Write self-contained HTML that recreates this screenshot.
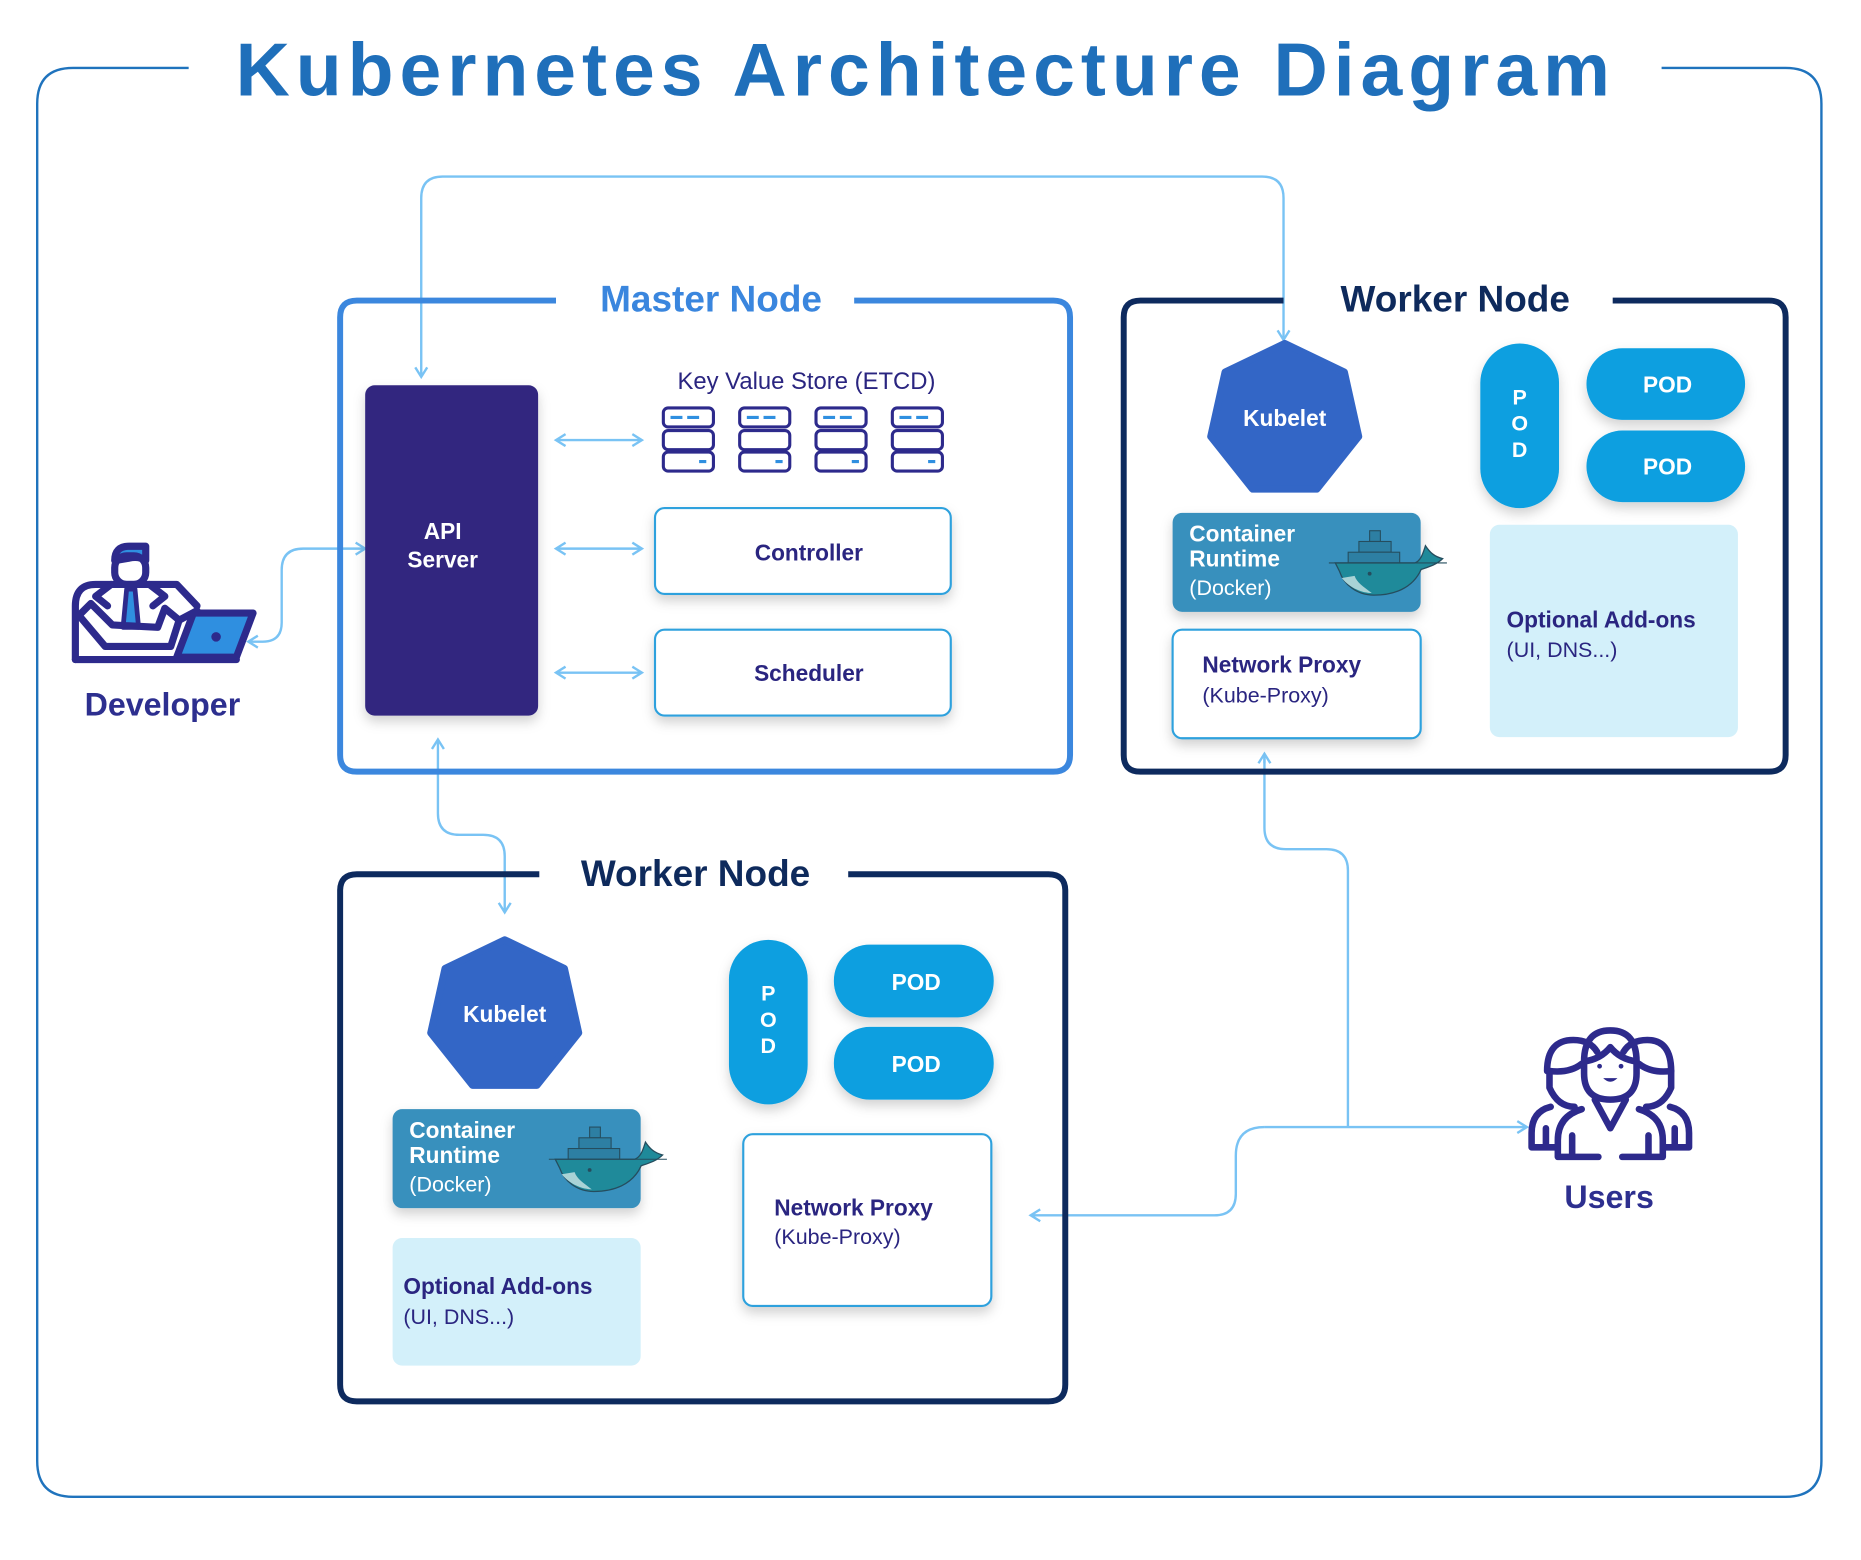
<!DOCTYPE html>
<html><head><meta charset="utf-8"><style>
html,body{margin:0;padding:0;background:#fff;}
svg{display:block;}
text{font-family:"Liberation Sans",sans-serif;}
.b{font-weight:bold;}
</style></head><body>
<svg width="1861" height="1560" viewBox="0 0 1560 1308" xmlns="http://www.w3.org/2000/svg">
<defs>
<filter id="sh" x="-20%" y="-20%" width="140%" height="150%"><feDropShadow dx="0" dy="5" stdDeviation="5" flood-color="#000" flood-opacity="0.18"/></filter>
<marker id="ah" viewBox="0 0 12 12" refX="10" refY="6" markerWidth="12" markerHeight="12" markerUnits="userSpaceOnUse" orient="auto-start-reverse"><path d="M2,1 L10,6 L2,11" fill="none" stroke="#79c3f4" stroke-width="2"/></marker>
<g id="etcd" fill="none" stroke="#2d2a8c" stroke-width="2.6">
<rect x="0" y="0" width="42" height="16" rx="4"/><rect x="0" y="19" width="42" height="16" rx="4"/><rect x="0" y="37" width="42" height="16" rx="4"/>
<path d="M6,8h10M20,8h10M30,45h6" stroke="#2f8fe0"/>
</g>
<g id="whale" transform="scale(0.9)">
<rect x="18" y="-30" width="10" height="10" fill="#2d7fa3" stroke="#254d5e"/>
<rect x="8" y="-20" width="30" height="10" fill="#2d7fa3" stroke="#254d5e"/>
<rect x="-2" y="-10" width="48" height="10" fill="#2d7fa3" stroke="#254d5e"/>
<path d="M-14,0 H60 C66,-2 68,-10 70,-16 C74,-10 78,-6 86,-4 C80,2 72,4 66,6 C58,24 40,30 22,30 C6,30 -6,20 -10,8 Z" fill="#1f8a9a" stroke="#254d5e" stroke-width="1.2"/>
<path d="M-8,14 C0,24 12,28 20,28 C12,22 6,18 4,12 Z" fill="#a9d3d6"/>
<circle cx="18" cy="10" r="1.8" fill="#254d5e"/>
<path d="M-20,0 H90" stroke="#254d5e" stroke-width="1"/>
</g>
</defs>

<!-- outer frame -->
<path d="M158,57 H61 Q31,57 31,87 V1225 Q31,1255 61,1255 H1497 Q1527,1255 1527,1225 V87 Q1527,57 1497,57 H1393" fill="none" stroke="#1f73bd" stroke-width="2"/>
<text x="776" y="80" text-anchor="middle" class="b" font-size="63" fill="#1f6fba" letter-spacing="5">Kubernetes Architecture Diagram</text>

<!-- connectors -->
<g fill="none" stroke="#79c3f4" stroke-width="2">
<path d="M353,316 V166 Q353,148 371,148 H1058 Q1076,148 1076,166 V285" marker-start="url(#ah)" marker-end="url(#ah)"/>
<path d="M306,460 H254 Q236,460 236,478 V522 Q236,538 220,538 H208" marker-start="url(#ah)" marker-end="url(#ah)"/>
<path d="M367,620 V682 Q367,700 385,700 H405 Q423,700 423,718 V765" marker-start="url(#ah)" marker-end="url(#ah)"/>
<path d="M1060,632 V694 Q1060,712 1078,712 H1112 Q1130,712 1130,730 V945"/>
<path d="M1060,632 V640" marker-start="url(#ah)"/>
<path d="M1060,945 H1280" marker-end="url(#ah)"/>
<path d="M1060,945 Q1036,945 1036,969 V1001 Q1036,1019 1018,1019 H864" marker-end="url(#ah)"/>
<path d="M466,369 H538" marker-start="url(#ah)" marker-end="url(#ah)"/>
<path d="M466,460 H538" marker-start="url(#ah)" marker-end="url(#ah)"/>
<path d="M466,564 H538" marker-start="url(#ah)" marker-end="url(#ah)"/>
</g>

<!-- master node -->
<path d="M466,252 H299 Q285,252 285,266 V633 Q285,647 299,647 H883 Q897,647 897,633 V266 Q897,252 883,252 H716" fill="none" stroke="#3b87de" stroke-width="5"/>
<text x="596" y="261" text-anchor="middle" class="b" font-size="31" fill="#3a86de">Master Node</text>
<rect x="306" y="323" width="145" height="277" rx="8" fill="#30267f" filter="url(#sh)"/>
<text x="371" y="452" text-anchor="middle" class="b" font-size="19" fill="#fff">API</text>
<text x="371" y="476" text-anchor="middle" class="b" font-size="19" fill="#fff">Server</text>
<text x="676" y="326" text-anchor="middle" font-size="20" fill="#2a2580">Key Value Store (ETCD)</text>
<use href="#etcd" x="556" y="342"/><use href="#etcd" x="620" y="342"/><use href="#etcd" x="684" y="342"/><use href="#etcd" x="748" y="342"/>
<rect x="549" y="426" width="248" height="72" rx="8" fill="#fff" stroke="#2ea1dd" stroke-width="1.8" filter="url(#sh)"/>
<text x="678" y="470" text-anchor="middle" class="b" font-size="19" fill="#2a2580">Controller</text>
<rect x="549" y="528" width="248" height="72" rx="8" fill="#fff" stroke="#2ea1dd" stroke-width="1.8" filter="url(#sh)"/>
<text x="678" y="571" text-anchor="middle" class="b" font-size="19" fill="#2a2580">Scheduler</text>

<!-- worker top right -->
<path d="M1076,252 H956 Q942,252 942,266 V633 Q942,647 956,647 H1483 Q1497,647 1497,633 V266 Q1497,252 1483,252 H1352" fill="none" stroke="#0d2a5e" stroke-width="5"/>
<text x="1220" y="261" text-anchor="middle" class="b" font-size="31" fill="#0e2a5c">Worker Node</text>
<polygon transform="translate(1077,352)" points="0,-64 50,-40 62,14 27,58 -27,58 -62,14 -50,-40" fill="#3366c6" stroke="#3366c6" stroke-width="6" stroke-linejoin="round"/>
<text x="1077" y="357" text-anchor="middle" class="b" font-size="19" fill="#fff">Kubelet</text>
<rect x="983" y="430" width="208" height="83" rx="8" fill="#3990bd" filter="url(#sh)"/>
<text x="997" y="454" class="b" font-size="19" fill="#fff">Container</text>
<text x="997" y="475" class="b" font-size="19" fill="#fff">Runtime</text>
<text x="997" y="499" font-size="18" fill="#fff">(Docker)</text>
<use href="#whale" x="1132" y="472"/>
<rect x="983" y="528" width="208" height="91" rx="8" fill="#fff" stroke="#2ea1dd" stroke-width="1.8" filter="url(#sh)"/>
<text x="1008" y="564" class="b" font-size="19" fill="#2a2580">Network Proxy</text>
<text x="1008" y="589" font-size="18" fill="#2a2580">(Kube-Proxy)</text>
<rect x="1241" y="288" width="66" height="138" rx="33" fill="#0a9fe0" filter="url(#sh)"/>
<text x="1274" y="339" text-anchor="middle" class="b" font-size="18" fill="#fff">P</text>
<text x="1274" y="361" text-anchor="middle" class="b" font-size="18" fill="#fff">O</text>
<text x="1274" y="383" text-anchor="middle" class="b" font-size="18" fill="#fff">D</text>
<rect x="1330" y="292" width="133" height="60" rx="30" fill="#0a9fe0" filter="url(#sh)"/>
<text x="1398" y="329" text-anchor="middle" class="b" font-size="19" fill="#fff">POD</text>
<rect x="1330" y="361" width="133" height="60" rx="30" fill="#0a9fe0" filter="url(#sh)"/>
<text x="1398" y="398" text-anchor="middle" class="b" font-size="19" fill="#fff">POD</text>
<rect x="1249" y="440" width="208" height="178" rx="8" fill="#d3f0fa"/>
<text x="1263" y="526" class="b" font-size="19" fill="#2a2580">Optional Add-ons</text>
<text x="1263" y="551" font-size="18" fill="#2a2580">(UI, DNS...)</text>

<!-- worker bottom -->
<path d="M452,733 H299 Q285,733 285,747 V1161 Q285,1175 299,1175 H879 Q893,1175 893,1161 V747 Q893,733 879,733 H711" fill="none" stroke="#0d2a5e" stroke-width="5"/>
<text x="583" y="743" text-anchor="middle" class="b" font-size="31" fill="#0e2a5c">Worker Node</text>
<polygon transform="translate(423,852)" points="0,-64 50,-40 62,14 27,58 -27,58 -62,14 -50,-40" fill="#3366c6" stroke="#3366c6" stroke-width="6" stroke-linejoin="round"/>
<text x="423" y="857" text-anchor="middle" class="b" font-size="19" fill="#fff">Kubelet</text>
<rect x="329" y="930" width="208" height="83" rx="8" fill="#3990bd" filter="url(#sh)"/>
<text x="343" y="954" class="b" font-size="19" fill="#fff">Container</text>
<text x="343" y="975" class="b" font-size="19" fill="#fff">Runtime</text>
<text x="343" y="999" font-size="18" fill="#fff">(Docker)</text>
<use href="#whale" x="478" y="972"/>
<rect x="329" y="1038" width="208" height="107" rx="8" fill="#d3f0fa"/>
<text x="338" y="1085" class="b" font-size="19" fill="#2a2580">Optional Add-ons</text>
<text x="338" y="1110" font-size="18" fill="#2a2580">(UI, DNS...)</text>
<rect x="611" y="788" width="66" height="138" rx="33" fill="#0a9fe0" filter="url(#sh)"/>
<text x="644" y="839" text-anchor="middle" class="b" font-size="18" fill="#fff">P</text>
<text x="644" y="861" text-anchor="middle" class="b" font-size="18" fill="#fff">O</text>
<text x="644" y="883" text-anchor="middle" class="b" font-size="18" fill="#fff">D</text>
<rect x="699" y="792" width="134" height="61" rx="30" fill="#0a9fe0" filter="url(#sh)"/>
<text x="768" y="830" text-anchor="middle" class="b" font-size="19" fill="#fff">POD</text>
<rect x="699" y="861" width="134" height="61" rx="30" fill="#0a9fe0" filter="url(#sh)"/>
<text x="768" y="899" text-anchor="middle" class="b" font-size="19" fill="#fff">POD</text>
<rect x="623" y="951" width="208" height="144" rx="8" fill="#fff" stroke="#2ea1dd" stroke-width="1.8" filter="url(#sh)"/>
<text x="649" y="1019" class="b" font-size="19" fill="#2a2580">Network Proxy</text>
<text x="649" y="1043" font-size="18" fill="#2a2580">(Kube-Proxy)</text>

<!-- developer icon -->
<g fill="none" stroke="#2d2a8c" stroke-width="6" stroke-linejoin="round" stroke-linecap="round">
<path d="M96,470 Q96,458 108,458 H122 V470 Q116,466 108,468 Z" fill="#2f8fe0"/>
<rect x="96" y="466" width="26" height="24" rx="10"/>
<path d="M63,553 V508 Q63,490 80,490 H148 L165,508"/>
<path d="M93,490 L80,500 L90,508 M125,490 L138,500 L128,508"/>
<path d="M106,494 L103,526 H116 L113,494 Z" fill="#2f8fe0" stroke-width="4"/>
<path d="M94,524 L76,506 L66,516 L88,542 H143 L150,520 L138,510 L132,526 Z"/>
<path d="M150,520 L165,512"/>
<path d="M162,514 H212 L198,551 H148 Z" fill="#2f8fe0"/>
<circle cx="181" cy="534" r="2.5" fill="#2d2a8c" stroke-width="3"/>
<path d="M63,553 H198"/>
</g>
<text x="136" y="600" text-anchor="middle" class="b" font-size="27" fill="#2d2f8f">Developer</text>

<!-- users icon -->
<g fill="none" stroke="#2d2a8c" stroke-width="5.5" stroke-linejoin="round" stroke-linecap="round">
<path d="M1297,898 Q1297,872 1319,872 Q1333,872 1339,882"/>
<path d="M1299,898 V912 Q1306,928 1320,928"/>
<path d="M1299,898 Q1316,900 1326,892"/>
<path d="M1401,898 Q1401,872 1381,872 Q1367,872 1361,882"/>
<path d="M1401,898 V912 Q1394,928 1380,928"/>
<path d="M1401,898 Q1384,900 1374,892"/>
<path d="M1300,928 Q1284,932 1284,950 V962 H1304 M1296,946 V962"/>
<path d="M1400,928 Q1416,932 1416,950 V962 H1396 M1404,946 V962"/>
<path d="M1328,890 Q1328,864 1350,864 Q1372,864 1372,890 V900 Q1372,922 1350,922 Q1328,922 1328,900 Z"/>
<path d="M1328,890 Q1342,888 1350,878 Q1358,888 1372,890"/>
<path d="M1326,930 Q1306,936 1306,956 V970 H1340 M1318,952 V970"/>
<path d="M1374,930 Q1394,936 1394,956 V970 H1360 M1382,952 V970"/>
<path d="M1337,922 L1350,946 L1363,922"/>
</g>
<circle cx="1341" cy="894" r="2" fill="#2d2a8c"/><circle cx="1359" cy="894" r="2" fill="#2d2a8c"/>
<path d="M1344,904 Q1350,910 1356,904 Z" fill="#2d2a8c"/>
<text x="1349" y="1013" text-anchor="middle" class="b" font-size="27" fill="#2d2f8f">Users</text>
</svg>
</body></html>
